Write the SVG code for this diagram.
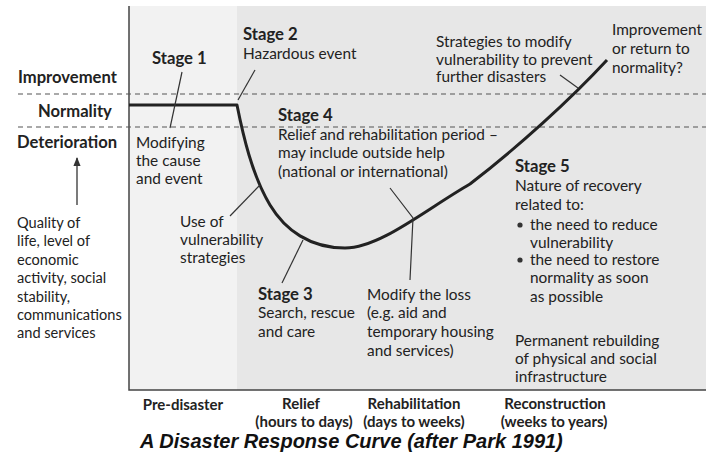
<svg xmlns="http://www.w3.org/2000/svg" width="706" height="460" viewBox="0 0 706 460">
<defs>
<style>
text{font-family:Lato,"Open Sans","DejaVu Sans",sans-serif;fill:#222;font-size:15.4px}
.s{font-size:14.6px}
.b{font-weight:bold;font-size:16.7px}
.axis{font-weight:bold;font-size:16.6px}
.x{font-weight:bold;font-size:15px}
.title{font-family:"Liberation Sans",Arial,sans-serif;font-weight:bold;font-style:italic;font-size:20px;fill:#111}
.dash{stroke:#555;stroke-width:1.2;stroke-dasharray:5 4;fill:none}
.lead{stroke:#333;stroke-width:1.2;fill:none}
.ctr{text-anchor:middle}
</style>
<marker id="ah" viewBox="0 0 10 10" refX="9" refY="5" markerWidth="7" markerHeight="7" orient="auto">
<path d="M0,1 L10,5 L0,9 z" fill="#333"/>
</marker>
</defs>
<rect width="706" height="460" fill="#fff"/>
<g id="plot">
<rect x="129" y="6" width="108" height="384" fill="#f2f2f2"/>
<rect x="237" y="6" width="469" height="384" fill="#e7e7e7"/>
<path d="M129,6 V390 H706" stroke="#444" stroke-width="1.5" fill="none"/>
</g>
<g id="bands">
<line class="dash" x1="18" y1="94" x2="706" y2="94"/>
<line class="dash" x1="18" y1="127" x2="706" y2="127"/>
<text class="axis" x="18" y="83">Improvement</text>
<text class="axis" x="38" y="117">Normality</text>
<text class="axis" x="17" y="148">Deterioration</text>
</g>
<g id="yaxis">
<line x1="77" y1="205" x2="77" y2="158" stroke="#333" stroke-width="1.3" marker-end="url(#ah)"/>
<text class="s" x="17" y="228">Quality of</text>
<text class="s" x="17" y="246">life, level of</text>
<text class="s" x="17" y="265">economic</text>
<text class="s" x="17" y="283">activity, social</text>
<text class="s" x="17" y="302">stability,</text>
<text class="s" x="17" y="320">communications</text>
<text class="s" x="17" y="338">and services</text>
</g>
<g id="curve">
<path d="M129,105 H237 C243,135 252,175 270,205 C285,230 310,248 345,248 C380,248 425,210 470,184 C518,147 570,100 607,60" stroke="#222" stroke-width="3" fill="none" stroke-linejoin="round"/>
</g>
<g id="connectors">
<line class="lead" x1="182" y1="72" x2="170" y2="128"/>
<line class="lead" x1="255" y1="70" x2="238" y2="100"/>
<line class="lead" x1="230" y1="216" x2="260" y2="185"/>
<line class="lead" x1="282" y1="283" x2="303" y2="240"/>
<polyline class="lead" points="390,188 413,218 410,280"/>
<line class="lead" x1="560" y1="75" x2="578" y2="88"/>
</g>
<g id="stage1">
<text class="b" x="152" y="64">Stage 1</text>
<text x="136" y="148">Modifying</text>
<text x="136" y="166">the cause</text>
<text x="136" y="184">and event</text>
</g>
<g id="stage2">
<text class="b" x="243" y="40">Stage 2</text>
<text x="243" y="59">Hazardous event</text>
</g>
<g id="strategies">
<text x="436" y="47">Strategies to modify</text>
<text x="436" y="65">vulnerability to prevent</text>
<text x="436" y="82">further disasters</text>
</g>
<g id="improvement">
<text x="612" y="35">Improvement</text>
<text x="612" y="54">or return to</text>
<text x="612" y="73">normality?</text>
</g>
<g id="stage4">
<text class="b" x="278" y="121">Stage 4</text>
<text x="278" y="140">Relief and rehabilitation period –</text>
<text x="278" y="158">may include outside help</text>
<text x="278" y="177">(national or international)</text>
</g>
<g id="vulnerability">
<text x="180" y="227">Use of</text>
<text x="180" y="245">vulnerability</text>
<text x="180" y="263">strategies</text>
</g>
<g id="stage3">
<text class="b" x="258" y="300">Stage 3</text>
<text x="258" y="318">Search, rescue</text>
<text x="258" y="337">and care</text>
</g>
<g id="modify">
<text x="367" y="300">Modify the loss</text>
<text x="367" y="318">(e.g. aid and</text>
<text x="367" y="337">temporary housing</text>
<text x="367" y="356">and services)</text>
</g>
<g id="stage5">
<text class="b" x="515" y="172">Stage 5</text>
<text x="515" y="191">Nature of recovery</text>
<text x="515" y="210">related to:</text>
<circle cx="520" cy="225" r="2.6" fill="#333"/>
<text x="530" y="230">the need to reduce</text>
<text x="530" y="248">vulnerability</text>
<circle cx="520" cy="260" r="2.6" fill="#333"/>
<text x="530" y="265">the need to restore</text>
<text x="530" y="283">normality as soon</text>
<text x="530" y="302">as possible</text>
<text x="515" y="346">Permanent rebuilding</text>
<text x="515" y="364">of physical and social</text>
<text x="515" y="382">infrastructure</text>
</g>
<g id="xaxis">
<text class="x ctr" x="183" y="410">Pre-disaster</text>
<text class="x ctr" x="301" y="409">Relief</text>
<text class="x ctr" x="304" y="427">(hours to days)</text>
<text class="x ctr" x="414" y="409">Rehabilitation</text>
<text class="x ctr" x="414" y="427">(days to weeks)</text>
<text class="x ctr" x="555" y="409">Reconstruction</text>
<text class="x ctr" x="554" y="427">(weeks to years)</text>
</g>
<text class="title" x="140" y="448">A Disaster Response Curve (after Park 1991)</text>
</svg>
